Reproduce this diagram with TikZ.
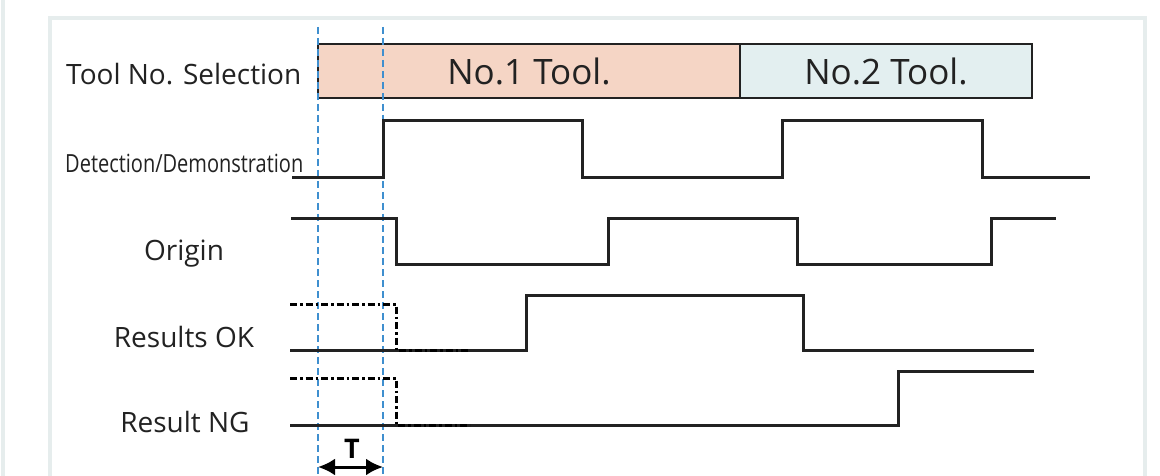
\documentclass[tikz,border=0pt]{standalone}
\usepackage{fontspec}
\setmainfont{Open Sans}
\newfontfamily\condfont[FakeStretch=0.8]{Open Sans}
\usetikzlibrary{arrows.meta}
\definecolor{sig}{HTML}{222222}
\definecolor{peach}{HTML}{F5D5C5}
\definecolor{pale}{HTML}{E3EFF0}
\definecolor{guide}{HTML}{3F8FCF}
\definecolor{card}{HTML}{E6EDED}
\begin{document}
\begin{tikzpicture}[x=1pt,y=-1pt,
  signal/.style={draw=sig, line width=3pt, line join=miter},
  prior/.style={draw=black, line width=3pt, dash pattern=on 7pt off 3pt on 2.5pt off 3pt},
  guideline/.style={draw=guide, line width=1.4pt, dash pattern=on 7pt off 4pt},
  lab/.style={font=\fontsize{28}{31}\selectfont, text=sig, inner sep=0pt},
  toolbox/.style={draw=sig, line width=2.6pt, inner sep=0pt, minimum height=54pt,
    font=\fontsize{35}{38}\selectfont, text=sig}]
\useasboundingbox (0,0) rectangle (1160,476);
\fill[white] (0,0) rectangle (1160,476);
% card frame
\draw[card, line width=3.5pt] (50,480) -- (50,18) -- (1145,18) -- (1145,480);
\draw[card, line width=3.5pt] (3,0) -- (3,476);
% labels
\node[lab, anchor=base west] (lsel) at (66,85) {Tool No. Selection};
\node[lab, anchor=base west, font=\condfont\fontsize{25}{28}\selectfont] (ldet) at (65,172) {Detection/Demonstration};
\node[lab, anchor=base] (lorg) at (184,260) {Origin};
\node[lab, anchor=base] (lok) at (184,347) {Results OK};
\node[lab, anchor=base] (lng) at (185,432) {Result NG};
% tool boxes
\node[toolbox, fill=peach, minimum width=422pt] (tool1) at (529,71) {No.1 Tool.};
\node[toolbox, fill=pale, minimum width=292pt] (tool2) at (886,71) {No.2 Tool.};
% guide lines
\coordinate (g1t) at (318,27); \coordinate (g1b) at (318,476);
\coordinate (g2t) at (383,27); \coordinate (g2b) at (383,476);
\draw[guideline] (g1t) -- (g1b);
\draw[guideline] (g2t) -- (g2b);
% signals
\draw[signal] (292,178) -- (383,178) -- (383,121) -- (582,121) -- (582,178) -- (782,178) -- (782,121) -- (982,121) -- (982,178) -- (1090,178);
\draw[signal] (291,218) -- (396,218) -- (396,264) -- (608,264) -- (608,218) -- (797,218) -- (797,264) -- (991,264) -- (991,218) -- (1056,218);
\draw[signal] (290,350) -- (526,350) -- (526,295) -- (803,295) -- (803,350) -- (1034,350);
\draw[signal] (290,425) -- (898,425) -- (898,371) -- (1034,371);
% prior states
\draw[prior] (290,304) -- (396,304) -- (396,350) -- (470,350);
\draw[prior] (290,378) -- (396,378) -- (396,425) -- (470,425);
% T interval
\coordinate (tl) at (318,467); \coordinate (tr) at (383,467);
\draw[line width=3pt, {Latex[length=17pt,width=17pt]}-{Latex[length=17pt,width=17pt]}] (tl) -- (tr);
\node[font=\bfseries\fontsize{27}{29}\selectfont, inner sep=0pt, anchor=base] (tlab) at (352,458) {T};
\end{tikzpicture}
\end{document}
